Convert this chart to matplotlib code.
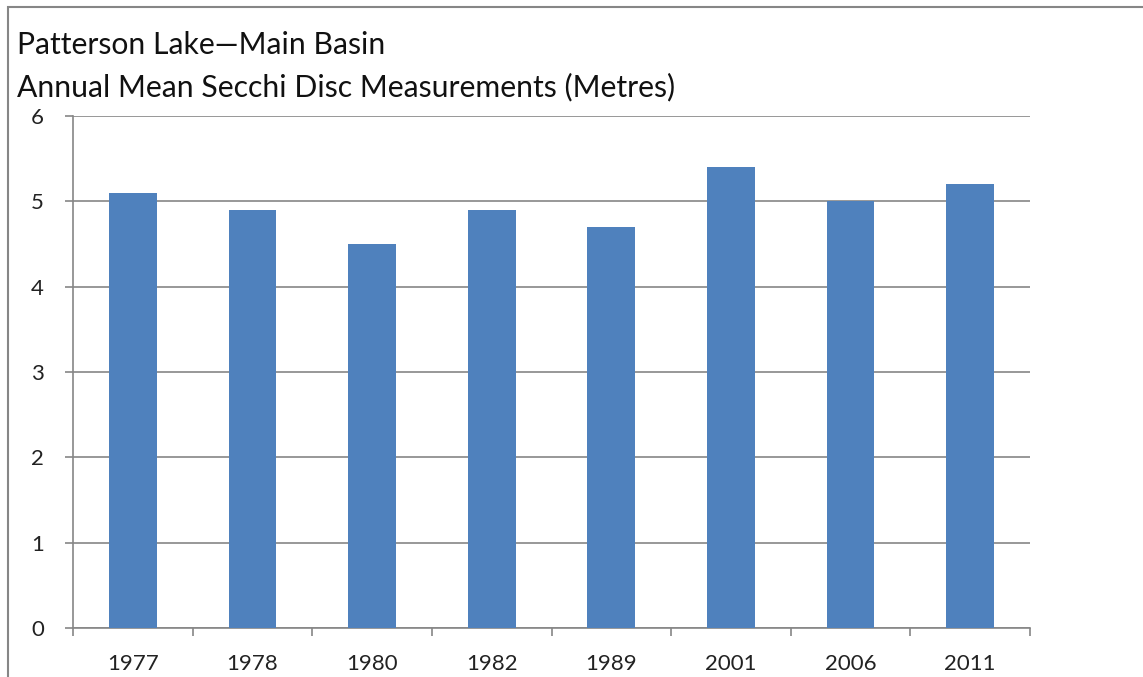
import matplotlib
matplotlib.use("Agg")
import matplotlib.pyplot as plt
from matplotlib.patches import Rectangle

plt.rcParams['font.family'] = ['Lato', 'DejaVu Sans']

years = ["1977", "1978", "1980", "1982", "1989", "2001", "2006", "2011"]
secchi = [5.1, 4.9, 4.5, 4.9, 4.7, 5.4, 5.0, 5.2]
yticks = [0, 1, 2, 3, 4, 5, 6]
title_lines = ["Patterson Lake\u2014Main Basin", "Annual Mean Secchi Disc Measurements (Metres)"]

W, H = 1143, 677
fig = plt.figure(figsize=(W / 100, H / 100), dpi=100)
ax = fig.add_axes([73 / W, 1 - 628 / H, (1030 - 73) / W, (628 - 116) / H])

x = list(range(len(years)))
ax.bar(x, secchi, width=0.4, color="#4F81BD", zorder=3)
ax.set_xlim(-0.5, len(years) - 0.5)
ax.set_ylim(0, 6)
ax.set_yticks(yticks)
ax.set_yticklabels([str(t) for t in yticks])
ax.yaxis.grid(True, color="#868686", linewidth=1.2, zorder=0)

# Category boundaries ticks
ax.set_xticks([i - 0.5 for i in range(len(years) + 1)])
ax.set_xticklabels([])
ax.set_xticks(x, minor=True)
ax.set_xticklabels(years, minor=True)
ax.tick_params(axis='x', which='minor', length=0, pad=19, labelsize=16, labelcolor="#222222")
ax.tick_params(axis='x', which='major', length=6, color="#868686", width=1.2)
ax.tick_params(axis='y', length=6, color="#868686", width=1.2, labelsize=16, pad=15, labelcolor="#222222")

for s in ['top', 'right']:
    ax.spines[s].set_visible(False)
for s in ['left', 'bottom']:
    ax.spines[s].set_color("#868686")
    ax.spines[s].set_linewidth(1.2)

# Figure border (top and left visible)
fig.add_artist(Rectangle((8 / W, -0.1), 1.2, 1 - 7 / H + 0.1, transform=fig.transFigure,
                         fill=False, edgecolor="#868686", linewidth=1.5))

fig.text(17 / W, 1 - 45 / H, title_lines[0], fontsize=21.7, va='center', ha='left',
         color="#111111")
fig.text(17 / W, 1 - 87 / H, title_lines[1], fontsize=21.7, va='center', ha='left',
         color="#111111")

fig.savefig("out.png", dpi=100)
